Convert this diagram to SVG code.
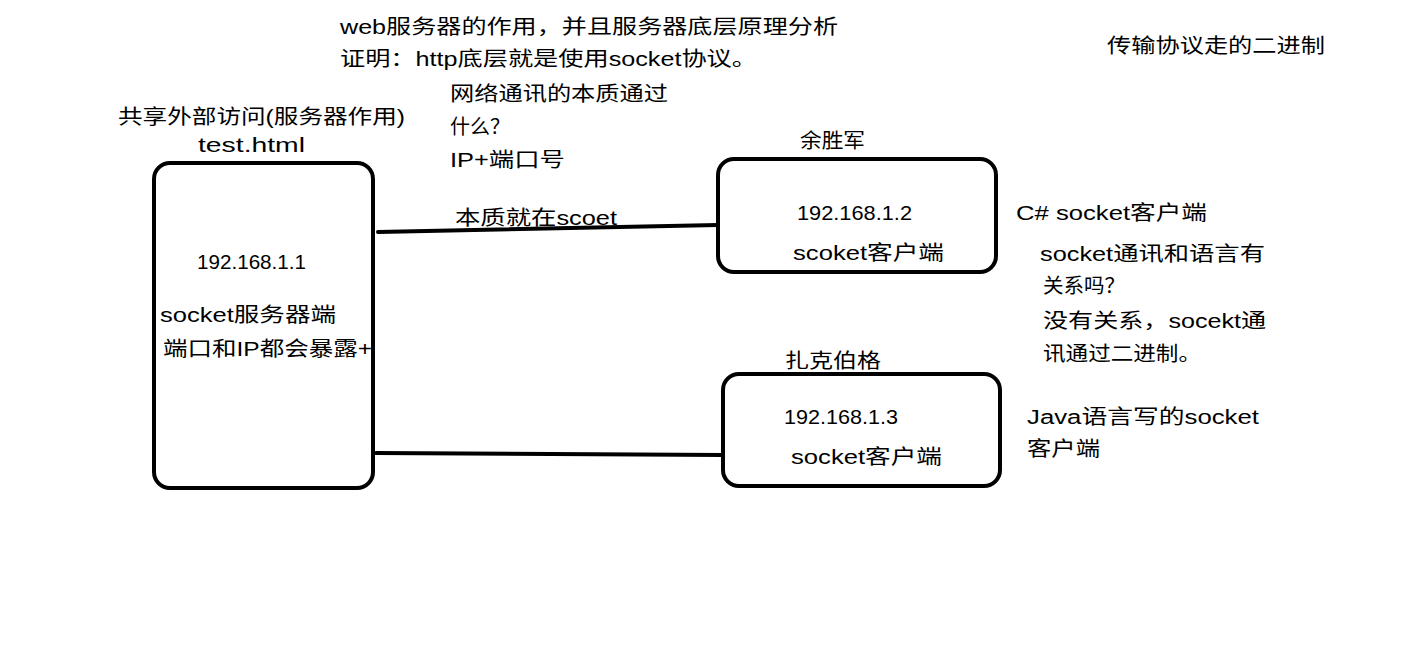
<svg xmlns="http://www.w3.org/2000/svg" width="1424" height="648" viewBox="0 0 1424 648">
<style>
text{font-family:"Liberation Sans","Noto Sans CJK SC",sans-serif;font-size:20px;fill:#000}
.box{fill:#fff;stroke:#000;stroke-width:4}
.conn{stroke:#000;stroke-width:4;fill:none;stroke-linecap:round}
</style>
<rect width="1424" height="648" fill="#fff"/>
<g id="connectors">
<path class="conn" d="M378 232 L718 225"/>
<path class="conn" d="M376 453 L723 455"/>
</g>
<g id="server">
<rect class="box" x="154" y="163" width="219" height="325" rx="16"/>
<text x="197" y="269" textLength="109" lengthAdjust="spacingAndGlyphs">192.168.1.1</text>
<text x="160" y="322" textLength="176" lengthAdjust="spacingAndGlyphs">socket服务器端</text>
<text x="163" y="356" textLength="209" lengthAdjust="spacingAndGlyphs">端口和IP都会暴露+</text>
<text x="118" y="124" textLength="287" lengthAdjust="spacingAndGlyphs">共享外部访问(服务器作用)</text>
<text x="198" y="152" textLength="107" lengthAdjust="spacingAndGlyphs">test.html</text>
</g>
<g id="client1">
<rect class="box" x="718" y="159" width="278" height="113" rx="16"/>
<text x="800" y="148" textLength="65" lengthAdjust="spacingAndGlyphs">余胜军</text>
<text x="797" y="220" textLength="115" lengthAdjust="spacingAndGlyphs">192.168.1.2</text>
<text x="793" y="260" textLength="151" lengthAdjust="spacingAndGlyphs">scoket客户端</text>
</g>
<g id="client2">
<rect class="box" x="723" y="374" width="277" height="112" rx="16"/>
<text x="785" y="368" textLength="96" lengthAdjust="spacingAndGlyphs">扎克伯格</text>
<text x="784" y="424" textLength="114" lengthAdjust="spacingAndGlyphs">192.168.1.3</text>
<text x="791" y="464" textLength="151" lengthAdjust="spacingAndGlyphs">socket客户端</text>
</g>
<g id="notes">
<text x="340" y="34" textLength="498" lengthAdjust="spacingAndGlyphs">web服务器的作用，并且服务器底层原理分析</text>
<text x="340" y="66" textLength="417" lengthAdjust="spacingAndGlyphs">证明：http底层就是使用socket协议。</text>
<text x="450" y="101" textLength="218" lengthAdjust="spacingAndGlyphs">网络通讯的本质通过</text>
<text x="450" y="134" textLength="60" lengthAdjust="spacingAndGlyphs">什么？</text>
<text x="450" y="167" textLength="115" lengthAdjust="spacingAndGlyphs">IP+端口号</text>
<text x="1107" y="53" textLength="218" lengthAdjust="spacingAndGlyphs">传输协议走的二进制</text>
<text x="455" y="225" textLength="162" lengthAdjust="spacingAndGlyphs">本质就在scoet</text>
<text x="1016" y="220" textLength="191" lengthAdjust="spacingAndGlyphs">C# socket客户端</text>
<text x="1040" y="261" textLength="225" lengthAdjust="spacingAndGlyphs">socket通讯和语言有</text>
<text x="1043" y="293" textLength="82" lengthAdjust="spacingAndGlyphs">关系吗？</text>
<text x="1043" y="328" textLength="223" lengthAdjust="spacingAndGlyphs">没有关系，socekt通</text>
<text x="1043" y="361" textLength="158" lengthAdjust="spacingAndGlyphs">讯通过二进制。</text>
<text x="1027" y="424" textLength="232" lengthAdjust="spacingAndGlyphs">Java语言写的socket</text>
<text x="1027" y="456" textLength="73" lengthAdjust="spacingAndGlyphs">客户端</text>
</g>
</svg>
